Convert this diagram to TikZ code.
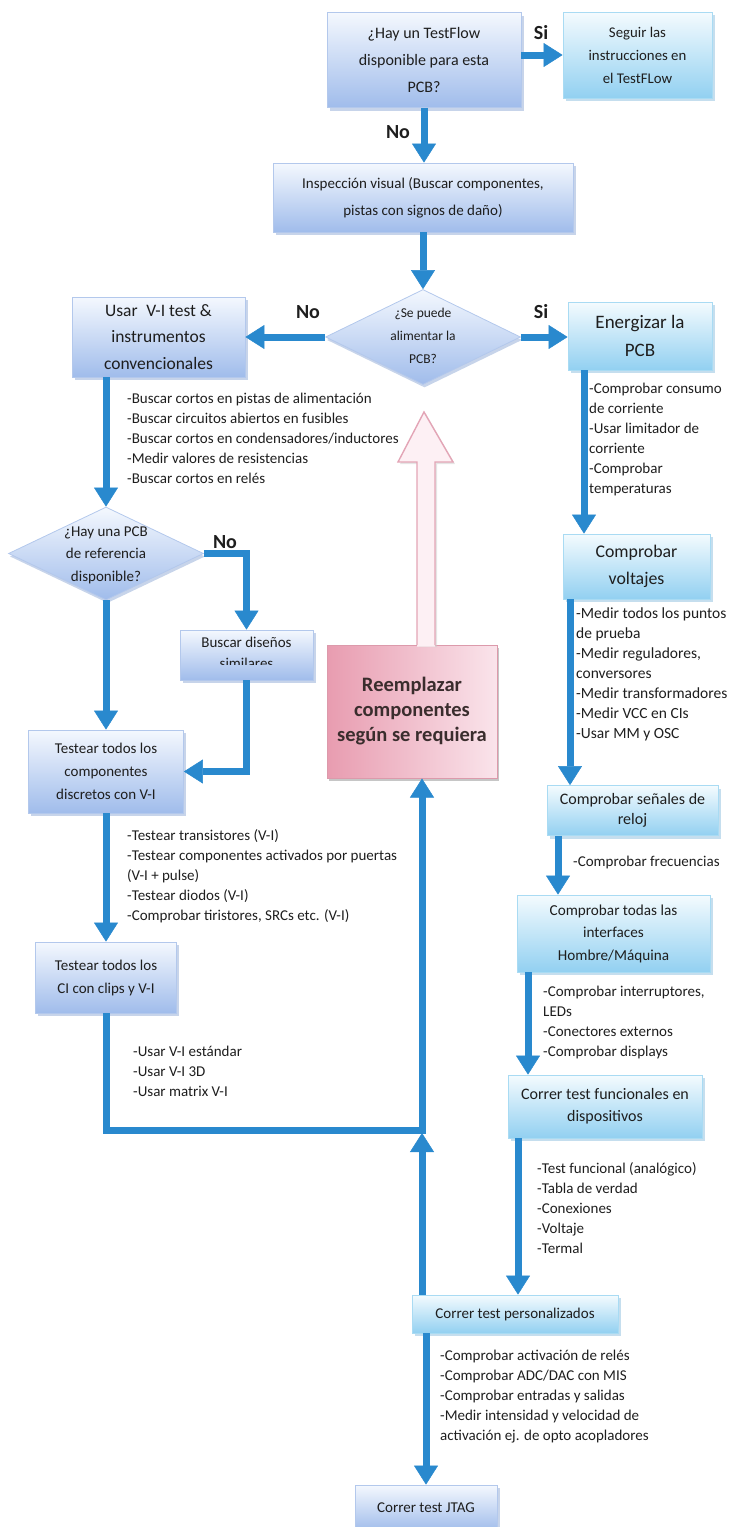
\documentclass[tikz,border=0pt]{standalone}
\usepackage{fontspec}
\setmainfont{Carlito}
\usetikzlibrary{arrows.meta,shapes.geometric,shadows}

\definecolor{flow}{RGB}{41,137,206}
\definecolor{ink}{RGB}{30,30,30}
\definecolor{ptop}{RGB}{244,248,254}
\definecolor{pmid}{RGB}{226,235,250}
\definecolor{pbot}{RGB}{160,188,235}
\definecolor{pedge}{RGB}{179,200,236}
\definecolor{pshade}{RGB}{143,169,214}
\definecolor{ctop}{RGB}{244,251,254}
\definecolor{cmid}{RGB}{222,242,252}
\definecolor{cbot}{RGB}{146,208,241}
\definecolor{cedge}{RGB}{169,219,243}
\definecolor{cshade}{RGB}{140,190,222}
\definecolor{rdark}{RGB}{232,156,176}
\definecolor{rlight}{RGB}{250,228,235}
\definecolor{redge}{RGB}{220,154,171}
\definecolor{rink}{RGB}{58,45,45}
\definecolor{afill}{RGB}{253,240,244}
\definecolor{aedge}{RGB}{227,165,182}

\begin{document}
\begin{tikzpicture}[x=1pt,y=-1pt,
  box/.style={draw, line width=0.8pt, inner sep=0pt, align=center, text=ink},
  pbox/.style={box, draw=pedge, top color=ptop, middle color=pmid, bottom color=pbot,
    drop shadow={shadow xshift=2.5pt, shadow yshift=-3pt, opacity=.5, fill=pshade}},
  cbox/.style={box, draw=cedge, top color=ctop, middle color=cmid, bottom color=cbot,
    drop shadow={shadow xshift=2.5pt, shadow yshift=-3pt, opacity=.5, fill=cshade}},
  dia/.style={shape=diamond, inner sep=0pt, draw=pedge, line width=0.8pt,
    top color=ptop, middle color=pmid, bottom color=pbot,
    drop shadow={shadow xshift=1.5pt, shadow yshift=-3pt, opacity=.5, fill=pshade}},
  rbox/.style={box, draw=redge, line width=1pt, left color=rdark, right color=rlight, text=rink,
    drop shadow={shadow xshift=2pt, shadow yshift=-3pt, opacity=.45, fill=gray}},
  lbl/.style={inner sep=0pt, text=ink, font=\bfseries\fontsize{20}{24}\selectfont},
  lst/.style={anchor=north west, inner sep=0pt, align=left, text=ink, font=\fontsize{15}{20}\selectfont},
  ttxt/.style={inner sep=0pt, align=center, text=ink},
  conn/.style={draw=flow, line width=7pt, -{Triangle[width=24pt,length=19pt,line width=0.5pt]}},
]
\useasboundingbox (0,0) rectangle (730,1527);

% ---------- top: TestFlow question ----------
\node[pbox, minimum width=194pt, minimum height=95pt, font=\fontsize{16}{27}\selectfont]
  (q1) at (424,60) {¿Hay un TestFlow\\disponible para esta\\PCB?};
\node[cbox, minimum width=149pt, minimum height=86pt, font=\fontsize{14.8}{23}\selectfont]
  (seg) at (637.5,55) {Seguir las\\instrucciones en\\el TestFLow};
\node[lbl] (si1) at (541,33) {Si};
\node[lbl] (no1) at (398,132) {No};

\node[pbox, minimum width=300pt, minimum height=69pt, font=\fontsize{15}{27}\selectfont]
  (insp) at (423,197.5) {Inspección visual (Buscar componentes,\\pistas con signos de daño)};

% ---------- power question ----------
\node[dia, minimum width=195pt, minimum height=95pt] (q2) at (423,337) {};
\node[ttxt, font=\fontsize{13.5}{23}\selectfont] (q2t) at (423,336) {¿Se puede\\alimentar la\\PCB?};
\node[lbl] (no2) at (308,312) {No};
\node[lbl] (si2) at (541,312) {Si};

\node[pbox, minimum width=173pt, minimum height=80pt, font=\fontsize{17.5}{26.5}\selectfont]
  (usar) at (158.5,337) {Usar\enspace V-I test \&\\instrumentos\\convencionales};
\node[cbox, minimum width=144pt, minimum height=68pt, font=\fontsize{19}{28}\selectfont]
  (energ) at (640,336) {Energizar la\\PCB};

% ---------- replacement box with its hollow arrow ----------
\node[rbox, minimum width=170pt, minimum height=133pt, font=\bfseries\fontsize{20.5}{25}\selectfont]
  (repl) at (412,711.5) {Reemplazar\\componentes\\según se requiera};
\fill[gray!40, opacity=.5] (419,647) -- (419,464) -- (400,464) -- (426,414) -- (455,464)
  -- (437,464) -- (437,647) -- cycle;
\fill[afill] (417,646.5) -- (417,462) -- (398,462) -- (424,412) -- (453,462)
  -- (435,462) -- (435,646.5) -- cycle;
\draw[aedge, line width=1.4pt, line join=miter] (417,645) -- (417,462) -- (398,462)
  -- (424,412) -- (453,462) -- (435,462) -- (435,645);

% ---------- left branch ----------
\node[dia, minimum width=195pt, minimum height=93pt] (q3) at (106,553.5) {};
\node[ttxt, font=\fontsize{15}{22.5}\selectfont] (q3t) at (106,555) {¿Hay una PCB\\de referencia\\disponible?};
\node[lbl] (no3) at (225,542) {No};

\node[pbox, minimum width=133pt, minimum height=50pt] (buscar) at (246.5,655) {};
\begin{scope}
  \clip (180,630) rectangle (313,664);
  \node[ttxt, font=\fontsize{15}{21}\selectfont] (buscart) at (246.5,652.5) {Buscar diseños\\similares};
\end{scope}

\node[pbox, minimum width=155pt, minimum height=83pt, font=\fontsize{15}{23}\selectfont]
  (test) at (106,771.5) {Testear todos los\\componentes\\discretos con V-I};
\node[pbox, minimum width=141pt, minimum height=71pt, font=\fontsize{15}{23}\selectfont]
  (ci) at (106,977.5) {Testear todos los\\CI con clips y V-I};

% ---------- right column ----------
\node[cbox, minimum width=147pt, minimum height=65pt, font=\fontsize{17.8}{27}\selectfont]
  (volt) at (636.5,566.5) {Comprobar\\voltajes};
\node[cbox, minimum width=171pt, minimum height=50pt, font=\fontsize{16}{20}\selectfont]
  (senal) at (632.5,810.5) {Comprobar señales de\\reloj};
\node[cbox, minimum width=193pt, minimum height=77pt, font=\fontsize{15.2}{22.5}\selectfont]
  (inter) at (613.5,933.5) {Comprobar todas las\\interfaces\\Hombre/Máquina};
\node[cbox, minimum width=194pt, minimum height=63pt, font=\fontsize{16}{22}\selectfont]
  (func) at (605,1106.5) {Correr test funcionales en\\dispositivos};
\node[cbox, minimum width=206pt, minimum height=38pt, font=\fontsize{15}{20}\selectfont]
  (pers) at (515,1314) {Correr test personalizados};
\node[pbox, minimum width=142pt, minimum height=46pt, font=\fontsize{15}{20}\selectfont]
  (jtag) at (426,1508) {Correr test JTAG};

% ---------- check lists ----------
\node[lst] (l1) at (127,389.5) {\strut -Buscar cortos en pistas de alimentación\\-Buscar circuitos abiertos en fusibles\\-Buscar cortos en condensadores/inductores\\-Medir valores de resistencias\\-Buscar cortos en relés};
\node[lst] (l2) at (589,379.5) {\strut -Comprobar consumo\\de corriente\\-Usar limitador de\\corriente\\-Comprobar\\temperaturas};
\node[lst, font=\fontsize{15.5}{20}\selectfont] (l3) at (576,604.5) {\strut -Medir todos los puntos\\de prueba\\-Medir reguladores,\\conversores\\-Medir transformadores\\-Medir VCC en CIs\\-Usar MM y OSC};
\node[lst] (l4) at (573,852.5) {\strut -Comprobar frecuencias};
\node[lst] (l5) at (543,982.5) {\strut -Comprobar interruptores,\\LEDs\\-Conectores externos\\-Comprobar displays};
\node[lst] (l6) at (537,1159.5) {\strut -Test funcional (analógico)\\-Tabla de verdad\\-Conexiones\\-Voltaje\\-Termal};
\node[lst] (l7) at (440,1346.5) {\strut -Comprobar activación de relés\\-Comprobar ADC/DAC con MIS\\-Comprobar entradas y salidas\\-Medir intensidad y velocidad de\\activación ej. de opto acopladores};
\node[lst] (l8) at (127,826.5) {\strut -Testear transistores (V-I)\\-Testear componentes activados por puertas\\(V-I + pulse)\\-Testear diodos (V-I)\\-Comprobar tiristores, SRCs etc. (V-I)};
\node[lst] (l9) at (133,1042.5) {\strut -Usar V-I estándar\\-Usar V-I 3D\\-Usar matrix V-I};

% ---------- connectors ----------
\coordinate (jn) at (422,1130);
\coordinate (jb) at (422,1133);

\draw[conn] (q1.east |- seg.west) -- (seg.west);
\draw[conn] (q1.south) -- (q1.south |- insp.north);
\draw[conn] (insp.south) -- (q2.north);
\draw[conn] (q2.west) -- (usar.east);
\draw[conn] (q2.east) -- (q2.east -| energ.west);

\draw[conn] ([xshift=-52.5pt]usar.south) -- (q3.north);
\draw[conn] (q3.east) -| (buscar.north);
\draw[conn] (buscar.south) |- (test.east);
\draw[conn] (q3.south) -- (test.north);
\draw[conn] (test.south) -- (ci.north);
\draw[conn] (ci.south) |- (jn) -- (jn |- repl.south);

\draw[conn] ([xshift=-56pt]energ.south) -- ([xshift=-56pt]energ.south |- volt.north);
\draw[conn] ([xshift=-66.5pt]volt.south) -- ([xshift=-66.5pt]volt.south |- senal.north);
\draw[conn] ([xshift=-74.5pt]senal.south) -- ([xshift=-74.5pt]senal.south |- inter.north);
\draw[conn] ([xshift=-85.5pt]inter.south) -- ([xshift=-85.5pt]inter.south |- func.north);
\draw[conn] ([xshift=-87pt]func.south) -- ([xshift=-87pt]func.south |- pers.north);
\draw[conn] ([xshift=-93pt]pers.north) -- (jb);
\draw[conn] (pers.south -| jtag.north) -- (jtag.north);
\end{tikzpicture}
\end{document}
